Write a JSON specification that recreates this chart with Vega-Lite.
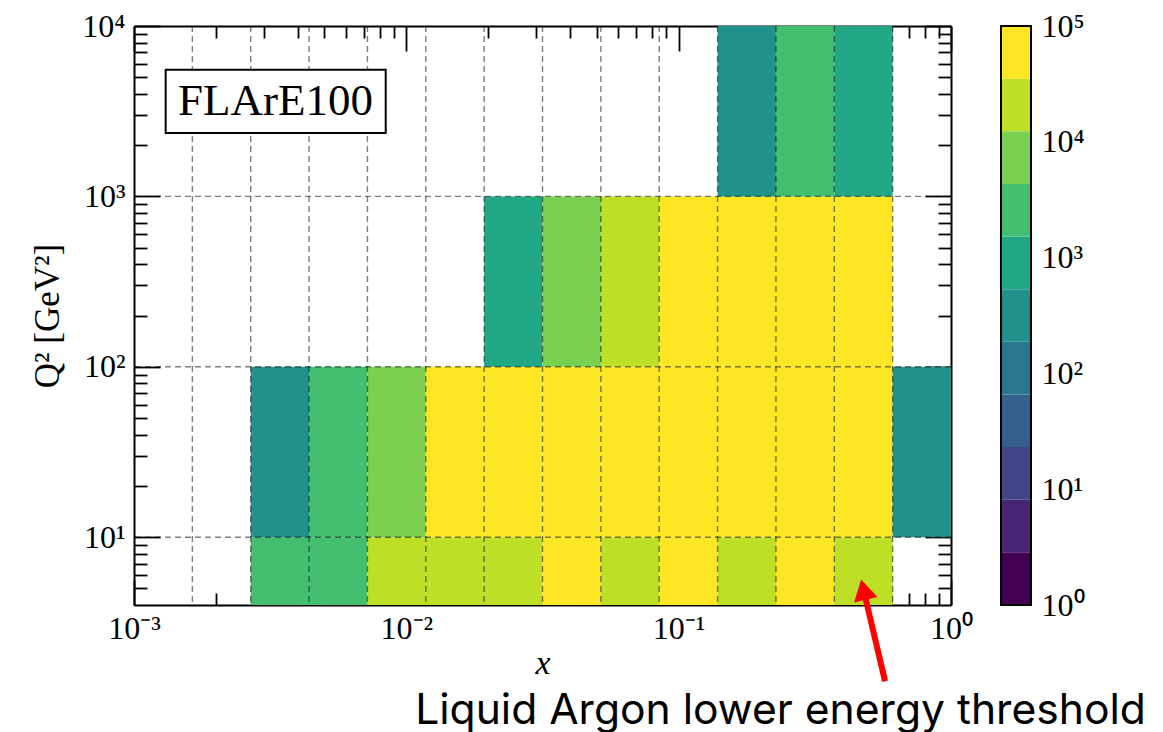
{
  "$schema": "https://vega.github.io/schema/vega-lite/v6.json",
  "background": "white",
  "autosize": {"type": "pad"},
  "padding": {"left": 30, "top": 10, "right": 5, "bottom": 5},
  "datasets": {
    "cells": [
      {"x0": 0.0026827, "x1": 0.004394, "q0": 4, "q1": 10, "count": 2500},
      {"x0": 0.004394, "x1": 0.0071969, "q0": 4, "q1": 10, "count": 2100},
      {"x0": 0.0071969, "x1": 0.011788, "q0": 4, "q1": 10, "count": 20000},
      {"x0": 0.011788, "x1": 0.019307, "q0": 4, "q1": 10, "count": 24000},
      {"x0": 0.019307, "x1": 0.031623, "q0": 4, "q1": 10, "count": 18000},
      {"x0": 0.031623, "x1": 0.051795, "q0": 4, "q1": 10, "count": 52000},
      {"x0": 0.051795, "x1": 0.084834, "q0": 4, "q1": 10, "count": 21000},
      {"x0": 0.084834, "x1": 0.13895, "q0": 4, "q1": 10, "count": 40000},
      {"x0": 0.13895, "x1": 0.22758, "q0": 4, "q1": 10, "count": 26000},
      {"x0": 0.22758, "x1": 0.37276, "q0": 4, "q1": 10, "count": 45000},
      {"x0": 0.37276, "x1": 0.61054, "q0": 4, "q1": 10, "count": 19000},

      {"x0": 0.0026827, "x1": 0.004394, "q0": 10, "q1": 100, "count": 320},
      {"x0": 0.004394, "x1": 0.0071969, "q0": 10, "q1": 100, "count": 3100},
      {"x0": 0.0071969, "x1": 0.011788, "q0": 10, "q1": 100, "count": 8000},
      {"x0": 0.011788, "x1": 0.019307, "q0": 10, "q1": 100, "count": 60000},
      {"x0": 0.019307, "x1": 0.031623, "q0": 10, "q1": 100, "count": 85000},
      {"x0": 0.031623, "x1": 0.051795, "q0": 10, "q1": 100, "count": 92000},
      {"x0": 0.051795, "x1": 0.084834, "q0": 10, "q1": 100, "count": 97000},
      {"x0": 0.084834, "x1": 0.13895, "q0": 10, "q1": 100, "count": 99000},
      {"x0": 0.13895, "x1": 0.22758, "q0": 10, "q1": 100, "count": 98000},
      {"x0": 0.22758, "x1": 0.37276, "q0": 10, "q1": 100, "count": 90000},
      {"x0": 0.37276, "x1": 0.61054, "q0": 10, "q1": 100, "count": 70000},
      {"x0": 0.61054, "x1": 1, "q0": 10, "q1": 100, "count": 260},

      {"x0": 0.019307, "x1": 0.031623, "q0": 100, "q1": 1000, "count": 900},
      {"x0": 0.031623, "x1": 0.051795, "q0": 100, "q1": 1000, "count": 6500},
      {"x0": 0.051795, "x1": 0.084834, "q0": 100, "q1": 1000, "count": 16000},
      {"x0": 0.084834, "x1": 0.13895, "q0": 100, "q1": 1000, "count": 42000},
      {"x0": 0.13895, "x1": 0.22758, "q0": 100, "q1": 1000, "count": 56000},
      {"x0": 0.22758, "x1": 0.37276, "q0": 100, "q1": 1000, "count": 61000},
      {"x0": 0.37276, "x1": 0.61054, "q0": 100, "q1": 1000, "count": 48000},

      {"x0": 0.13895, "x1": 0.22758, "q0": 1000, "q1": 10000, "count": 350},
      {"x0": 0.22758, "x1": 0.37276, "q0": 1000, "q1": 10000, "count": 2200},
      {"x0": 0.37276, "x1": 0.61054, "q0": 1000, "q1": 10000, "count": 1100}
    ],
    "xedges": [
      {"edge": 0.0016379}, {"edge": 0.0026827}, {"edge": 0.004394}, {"edge": 0.0071969},
      {"edge": 0.011788}, {"edge": 0.019307}, {"edge": 0.031623}, {"edge": 0.051795},
      {"edge": 0.084834}, {"edge": 0.13895}, {"edge": 0.22758}, {"edge": 0.37276}, {"edge": 0.61054}
    ],
    "qedges": [{"edge": 10}, {"edge": 100}, {"edge": 1000}],
    "cbar": [
      {"lo": 1, "hi": 2.848}, {"lo": 2.848, "hi": 8.1113}, {"lo": 8.1113, "hi": 23.101},
      {"lo": 23.101, "hi": 65.793}, {"lo": 65.793, "hi": 187.38}, {"lo": 187.38, "hi": 533.67},
      {"lo": 533.67, "hi": 1519.9}, {"lo": 1519.9, "hi": 4328.8}, {"lo": 4328.8, "hi": 12328},
      {"lo": 12328, "hi": 35112}, {"lo": 35112, "hi": 100000}
    ]
  },
  "bounds": "flush",
  "spacing": 50,
  "hconcat": [
    {
      "width": 817,
      "height": 579,
      "resolve": {"axis": {"x": "independent", "y": "independent"}},
      "layer": [
        {
          "data": {"name": "cells"},
          "mark": {"type": "rect", "strokeWidth": 0},
          "encoding": {
            "x": {
              "field": "x0", "type": "quantitative",
              "scale": {"type": "log", "domain": [0.001, 1], "nice": false},
              "axis": {
                "orient": "bottom",
                "values": [0.001, 0.002, 0.003, 0.004, 0.005, 0.006, 0.007, 0.008, 0.009, 0.01, 0.02, 0.03, 0.04, 0.05, 0.06, 0.07, 0.08, 0.09, 0.1, 0.2, 0.3, 0.4, 0.5, 0.6, 0.7, 0.8, 0.9, 1],
                "labelExpr": "datum.value == 0.001 ? '10⁻³' : datum.value == 0.01 ? '10⁻²' : datum.value == 0.1 ? '10⁻¹' : datum.value == 1 ? '10⁰' : ''",
                "tickSize": {"condition": {"test": "indexof([0.001, 0.01, 0.1, 1], datum.value) >= 0", "value": -25}, "value": -12},
                "labelPadding": 33,
                "title": "x",
                "titleFontStyle": "italic",
                "titleFontSize": 34,
                "titleBaseline": "alphabetic",
                "titlePadding": 16
              }
            },
            "x2": {"field": "x1"},
            "y": {
              "field": "q0", "type": "quantitative",
              "scale": {"type": "log", "domain": [4, 10000], "nice": false},
              "axis": {
                "orient": "left",
                "values": [5, 6, 7, 8, 9, 10, 20, 30, 40, 50, 60, 70, 80, 90, 100, 200, 300, 400, 500, 600, 700, 800, 900, 1000, 2000, 3000, 4000, 5000, 6000, 7000, 8000, 9000, 10000],
                "labelExpr": "datum.value == 10 ? '10¹' : datum.value == 100 ? '10²' : datum.value == 1000 ? '10³' : datum.value == 10000 ? '10⁴' : ''",
                "tickSize": {"condition": {"test": "indexof([10, 100, 1000, 10000], datum.value) >= 0", "value": -26}, "value": -13},
                "labelPadding": 35,
                "title": "Q² [GeV²]",
                "titleFontSize": 35,
                "titlePadding": 16
              }
            },
            "y2": {"field": "q1"},
            "color": {
              "field": "count", "type": "quantitative",
              "scale": {
                "type": "threshold",
                "domain": [2.848, 8.1113, 23.101, 65.793, 187.38, 533.67, 1519.9, 4328.8, 12328, 35112],
                "range": ["#440154", "#482475", "#414487", "#355f8d", "#2a788e", "#21918c", "#22a884", "#44bf70", "#7ad151", "#bddf26", "#fde725"]
              },
              "legend": null
            }
          }
        },
        {
          "data": {"name": "xedges"},
          "mark": {"type": "rule", "color": "black", "opacity": 0.5, "strokeWidth": 1.4, "strokeDash": [6, 4]},
          "encoding": {
            "x": {
              "field": "edge", "type": "quantitative",
              "scale": {"type": "log", "domain": [0.001, 1], "nice": false},
              "axis": {
                "orient": "top",
                "values": [0.001, 0.002, 0.003, 0.004, 0.005, 0.006, 0.007, 0.008, 0.009, 0.01, 0.02, 0.03, 0.04, 0.05, 0.06, 0.07, 0.08, 0.09, 0.1, 0.2, 0.3, 0.4, 0.5, 0.6, 0.7, 0.8, 0.9, 1],
                "labels": false,
                "tickSize": {"condition": {"test": "indexof([0.001, 0.01, 0.1, 1], datum.value) >= 0", "value": -25}, "value": -12},
                "title": null
              }
            }
          }
        },
        {
          "data": {"name": "qedges"},
          "mark": {"type": "rule", "color": "black", "opacity": 0.5, "strokeWidth": 1.4, "strokeDash": [6, 4]},
          "encoding": {
            "y": {
              "field": "edge", "type": "quantitative",
              "scale": {"type": "log", "domain": [4, 10000], "nice": false},
              "axis": {
                "orient": "right",
                "values": [5, 6, 7, 8, 9, 10, 20, 30, 40, 50, 60, 70, 80, 90, 100, 200, 300, 400, 500, 600, 700, 800, 900, 1000, 2000, 3000, 4000, 5000, 6000, 7000, 8000, 9000, 10000],
                "labels": false,
                "tickSize": {"condition": {"test": "indexof([10, 100, 1000, 10000], datum.value) >= 0", "value": -26}, "value": -13},
                "title": null
              }
            }
          }
        },
        {
          "data": {"values": [{}]},
          "mark": {"type": "rect", "fill": "white", "stroke": "black", "strokeWidth": 2},
          "encoding": {
            "x": {"datum": 0.001307, "type": "quantitative", "scale": {"type": "log", "domain": [0.001, 1], "nice": false}, "axis": null},
            "x2": {"datum": 0.0084},
            "y": {"datum": 5538, "type": "quantitative", "scale": {"type": "log", "domain": [4, 10000], "nice": false}, "axis": null},
            "y2": {"datum": 2353}
          }
        },
        {
          "data": {"values": [{}]},
          "mark": {"type": "text", "font": "Liberation Serif", "fontSize": 45, "align": "center", "baseline": "middle", "color": "black"},
          "encoding": {
            "x": {"datum": 0.003309, "type": "quantitative", "scale": {"type": "log", "domain": [0.001, 1], "nice": false}, "axis": null},
            "y": {"datum": 3627, "type": "quantitative", "scale": {"type": "log", "domain": [4, 10000], "nice": false}, "axis": null},
            "text": {"value": "FLArE100"}
          }
        },
        {
          "data": {"values": [{}]},
          "mark": {"type": "rule", "color": "#ff0000", "strokeWidth": 6, "strokeCap": "butt"},
          "encoding": {
            "x": {"datum": 0.5726, "type": "quantitative", "scale": {"type": "log", "domain": [0.001, 1], "nice": false}, "axis": null},
            "y": {"datum": 1.427, "type": "quantitative", "scale": {"type": "log", "domain": [4, 10000], "nice": false}, "axis": null},
            "x2": {"datum": 0.4771},
            "y2": {"datum": 4.923}
          }
        },
        {
          "data": {"values": [{}]},
          "mark": {"type": "point", "shape": "triangle-up", "filled": true, "color": "#ff0000", "opacity": 1, "size": 576, "angle": -13},
          "encoding": {
            "x": {"datum": 0.4771, "type": "quantitative", "scale": {"type": "log", "domain": [0.001, 1], "nice": false}, "axis": null},
            "y": {"datum": 4.923, "type": "quantitative", "scale": {"type": "log", "domain": [4, 10000], "nice": false}, "axis": null}
          }
        },
        {
          "data": {"values": [{}]},
          "mark": {"type": "text", "font": "Inter", "fontSize": 42.6, "align": "center", "baseline": "alphabetic", "color": "black"},
          "encoding": {
            "x": {"datum": 0.2366, "type": "quantitative", "scale": {"type": "log", "domain": [0.001, 1], "nice": false}, "axis": null},
            "y": {"datum": 0.8, "type": "quantitative", "scale": {"type": "log", "domain": [4, 10000], "nice": false}, "axis": null},
            "text": {"value": "Liquid Argon lower energy threshold"}
          }
        }
      ]
    },
    {
      "width": 30,
      "height": 579,
      "layer": [
        {
          "data": {"name": "cbar"},
          "mark": {"type": "rect", "strokeWidth": 0},
          "encoding": {
            "y": {
              "field": "lo", "type": "quantitative",
              "scale": {"type": "log", "domain": [1, 100000], "nice": false},
              "axis": {
                "orient": "right",
                "values": [1, 10, 100, 1000, 10000, 100000],
                "labelExpr": "datum.value == 1 ? '10⁰' : datum.value == 10 ? '10¹' : datum.value == 100 ? '10²' : datum.value == 1000 ? '10³' : datum.value == 10000 ? '10⁴' : '10⁵'",
                "ticks": false,
                "domain": false,
                "labelPadding": 10,
                "title": null
              }
            },
            "y2": {"field": "hi"},
            "color": {
              "field": "lo", "type": "quantitative",
              "scale": {
                "type": "threshold",
                "domain": [2.848, 8.1113, 23.101, 65.793, 187.38, 533.67, 1519.9, 4328.8, 12328, 35112],
                "range": ["#440154", "#482475", "#414487", "#355f8d", "#2a788e", "#21918c", "#22a884", "#44bf70", "#7ad151", "#bddf26", "#fde725"]
              },
              "legend": null
            }
          }
        },
        {
          "data": {"values": [{}]},
          "mark": {"type": "rect", "filled": false, "stroke": "black", "strokeWidth": 2},
          "encoding": {}
        }
      ]
    }
  ],
  "config": {
    "view": {"stroke": null},
    "axis": {
      "labelFont": "Liberation Serif",
      "titleFont": "Liberation Serif",
      "labelFontSize": 32,
      "titleFontSize": 32,
      "titleFontWeight": "normal",
      "labelColor": "black",
      "titleColor": "black",
      "domainColor": "black",
      "domainWidth": 2,
      "tickColor": "black",
      "tickWidth": 1.8,
      "grid": false,
      "zindex": 1,
      "labelOverlap": false,
      "labelFlush": false
    }
  }
}
